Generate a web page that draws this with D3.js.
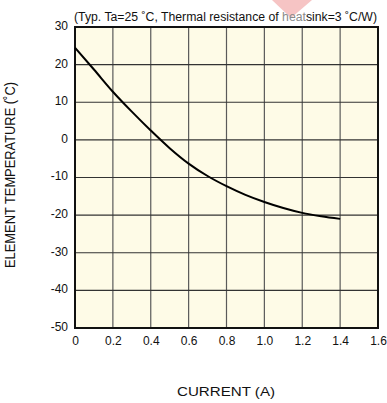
<!DOCTYPE html>
<html>
<head>
<meta charset="utf-8">
<script src="https://cdn.jsdelivr.net/npm/d3@7"></script>
<style>
  body { margin: 0; background: #fff; }
  svg text { font-family: "Liberation Sans", Arial, sans-serif; fill: #111; }
</style>
</head>
<body>
<div id="chart"></div>
<script>
// data
var current = [0, 0.1, 0.2, 0.3, 0.4, 0.5, 0.6, 0.7, 0.8, 0.9, 1.0, 1.1, 1.2, 1.3, 1.4];
var temperature = [24.5, 18.7, 12.8, 7.5, 2.5, -2.2, -6.3, -9.6, -12.3, -14.6, -16.5, -18.1, -19.4, -20.3, -21.0];
var xTicks = [0, 0.2, 0.4, 0.6, 0.8, 1.0, 1.2, 1.4, 1.6];
var xTickLabels = ["0", "0.2", "0.4", "0.6", "0.8", "1.0", "1.2", "1.4", "1.6"];
var yTicks = [-50, -40, -30, -20, -10, 0, 10, 20, 30];

var W = 387, H = 403;
var margin = {top: 27, right: 9, bottom: 75, left: 75};
var width = W - margin.left - margin.right, height = H - margin.top - margin.bottom;

var svg = d3.select("#chart").append("svg")
	.attr("width", W)
	.attr("height", H);

// watermark bit at the top
svg.append("polygon")
	.attr("points", "272,0 312,0 291,18")
	.style("fill", "#f6c4c4");

var g = svg.append("g")
	.attr("transform", "translate(" + margin.left + "," + margin.top + ")");

var x = d3.scaleLinear().domain([0, 1.6]).range([0, width]);
var y = d3.scaleLinear().domain([-50, 30]).range([height, 0]);

g.append("rect")
	.attr("width", width)
	.attr("height", height)
	.style("fill", "#fefbe7");

// grid
g.selectAll(".vgrid")
	.data(xTicks.slice(1, -1))
	.enter().append("line")
	.attr("x1", function(d){ return x(d); })
	.attr("x2", function(d){ return x(d); })
	.attr("y1", 0).attr("y2", height)
	.style("stroke", "#5a5a5a").style("stroke-width", 1.2);

g.selectAll(".hgrid")
	.data(yTicks.slice(1, -1))
	.enter().append("line")
	.attr("y1", function(d){ return y(d); })
	.attr("y2", function(d){ return y(d); })
	.attr("x1", 0).attr("x2", width)
	.style("stroke", "#333").style("stroke-width", 1.2);

g.append("rect")
	.attr("width", width)
	.attr("height", height)
	.style("fill", "none")
	.style("stroke", "#111")
	.style("stroke-width", 2);

// axes (labels only)
var xAxis = d3.axisBottom(x).tickValues(xTicks).tickSize(0).tickPadding(8)
	.tickFormat(function(d, i){ return xTickLabels[i]; });
var yAxis = d3.axisLeft(y).tickValues(yTicks).tickSize(0).tickPadding(7)
	.tickFormat(function(d){ return String(d); });

var xa = g.append("g").attr("transform", "translate(0," + height + ")").call(xAxis);
var ya = g.append("g").call(yAxis);
[xa, ya].forEach(function(a){
	a.select(".domain").remove();
	a.selectAll("text").style("font-size", "12px").style("font-family", "Liberation Sans, Arial, sans-serif").attr("fill", "#111");
});
ya.selectAll("text").attr("dy", "0.2em");

// curve
var line = d3.line()
	.x(function(d, i){ return x(current[i]); })
	.y(function(d){ return y(d); })
	.curve(d3.curveMonotoneX);

g.append("path")
	.datum(temperature)
	.attr("d", line)
	.style("fill", "none")
	.style("stroke", "#000")
	.style("stroke-width", 2);

// titles
var title = svg.append("text")
	.attr("x", 74).attr("y", 21)
	.attr("textLength", 303)
	.attr("lengthAdjust", "spacingAndGlyphs")
	.style("font-size", "12px");
title.append("tspan").text("(Typ. Ta=25 \u02DAC, Thermal resistance of ");
title.append("tspan").style("fill", "#8a8a8a").text("heat");
title.append("tspan").text("sink=3 \u02DAC/W)");

svg.append("text")
	.attr("x", 177).attr("y", 396)
	.attr("textLength", 98)
	.attr("lengthAdjust", "spacingAndGlyphs")
	.style("font-size", "13.5px")
	.text("CURRENT (A)");

svg.append("text")
	.attr("transform", "translate(15,268) rotate(-90)")
	.attr("textLength", 186)
	.attr("lengthAdjust", "spacingAndGlyphs")
	.style("font-size", "14px")
	.text("ELEMENT TEMPERATURE (\u02DAC)");
</script>
</body>
</html>
